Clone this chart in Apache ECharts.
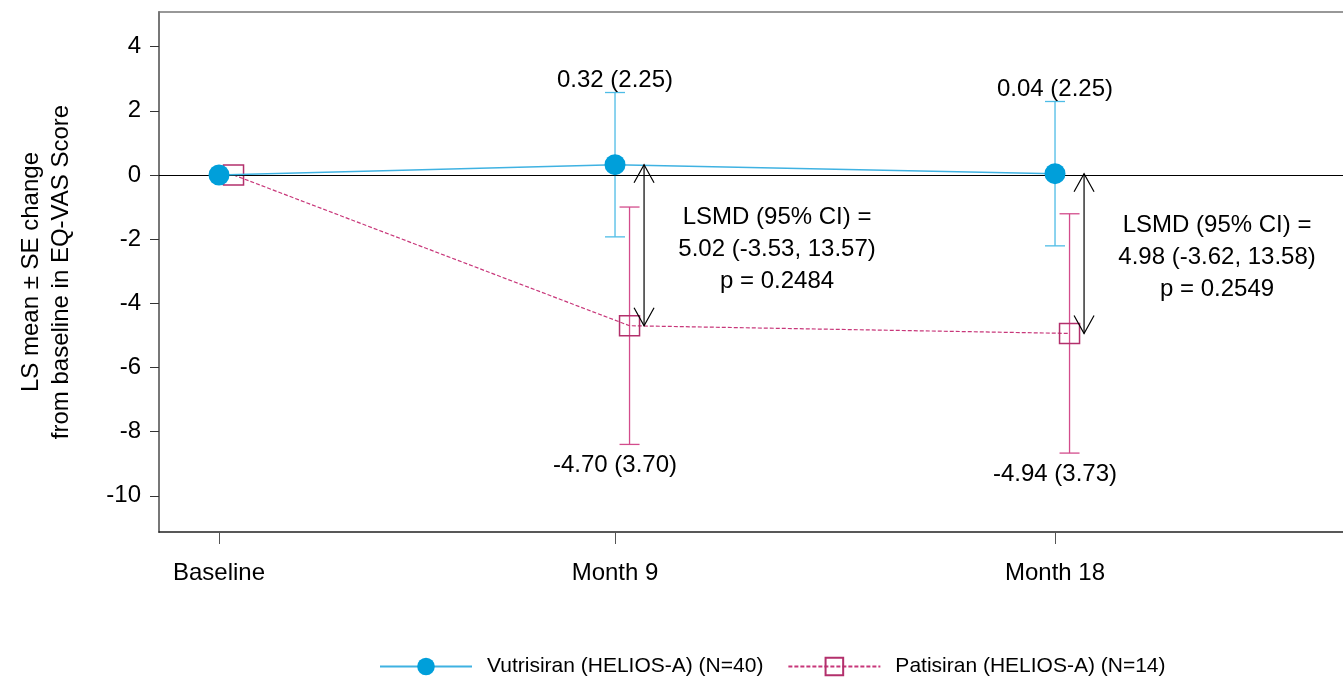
<!DOCTYPE html>
<html>
<head>
<meta charset="utf-8">
<script src="https://cdn.jsdelivr.net/npm/echarts@6/dist/echarts.min.js"></script>
<style>html,body{margin:0;padding:0;background:#fff;}#chart{width:1343px;height:683px;}</style>
</head>
<body>
<div id="chart"></div>
<script>
// ---- data ----
const categories = ['Baseline', 'Month 9', 'Month 18'];
const visitPos = [0, 9, 19];              // horizontal position of each visit on the time axis
const patDodge = 0.33;                    // patisiran points drawn slightly to the right
const arrowDodge = 0.66;                  // LSMD arrow position to the right of visit
const vutMean = [0, 0.32, 0.04];
const vutSE = [null, 2.25, 2.25];
const patMean = [0, -4.70, -4.94];
const patSE = [null, 3.70, 3.73];
const lsmdText = [null, '5.02 (-3.53, 13.57)', '4.98 (-3.62, 13.58)'];
const pText = [null, '0.2484', '0.2549'];
const yTicks = [-10, -8, -6, -4, -2, 0, 2, 4];
const seriesNames = ['Vutrisiran (HELIOS-A) (N=40)', 'Patisiran (HELIOS-A) (N=14)'];

const FONT = "'Liberation Sans', Arial, sans-serif";
const VUT = '#009FDA', VUT_LINE = '#3FB2E2', VUT_ERR = '#4DBCE6';
const PAT = '#B3306C', PAT_LINE = '#C8377A', PAT_ERR = '#D34C8C';

const vutPts = visitPos.map((x, i) => [x, vutMean[i]]);
const patPts = visitPos.map((x, i) => [x + patDodge, patMean[i]]);
const vutErr = [], patErr = [], topLabels = [], botLabels = [], arrows = [];
visitPos.forEach((x, i) => {
  if (vutSE[i] != null) {
    vutErr.push([x, vutMean[i] - vutSE[i], vutMean[i] + vutSE[i]]);
    topLabels.push({ value: [x, vutMean[i] + vutSE[i]], text: vutMean[i].toFixed(2) + ' (' + vutSE[i].toFixed(2) + ')' });
  }
  if (patSE[i] != null) {
    patErr.push([x + patDodge, patMean[i] - patSE[i], patMean[i] + patSE[i]]);
    botLabels.push({ value: [x, patMean[i] - patSE[i]], text: patMean[i].toFixed(2) + ' (' + patSE[i].toFixed(2) + ')' });
  }
  if (lsmdText[i] != null) {
    arrows.push({ value: [x + arrowDodge, vutMean[i], patMean[i]], lines: ['LSMD (95% CI) =', lsmdText[i], 'p = ' + pText[i]] });
  }
});

function errRender(color) {
  return function (params, api) {
    const x = api.value(0);
    const lo = api.coord([x, api.value(1)]);
    const hi = api.coord([x, api.value(2)]);
    const w = 10;
    const st = { stroke: color, lineWidth: 1.3 };
    return { type: 'group', children: [
      { type: 'line', shape: { x1: hi[0], y1: hi[1], x2: lo[0], y2: lo[1] }, style: st },
      { type: 'line', shape: { x1: hi[0] - w, y1: hi[1], x2: hi[0] + w, y2: hi[1] }, style: st },
      { type: 'line', shape: { x1: lo[0] - w, y1: lo[1], x2: lo[0] + w, y2: lo[1] }, style: st }
    ]};
  };
}
function labelRender(list, dy) {
  return function (params, api) {
    const it = list[params.dataIndex];
    const p = api.coord(it.value);
    return { type: 'text', x: p[0], y: p[1] + dy, style: { text: it.text, fill: '#000', font: '24px ' + FONT, textAlign: 'center', textVerticalAlign: 'middle' } };
  };
}

const option = {
  animation: false,
  grid: { left: 159, right: 0, top: 12, bottom: 151, containLabel: false, outerBoundsMode: 'none' },
  xAxis: [{
    type: 'value', min: -1.364, max: 25.545,
    axisLine: { show: true, onZero: false, lineStyle: { color: '#222', width: 1.5 } },
    axisTick: { show: true, length: 12, customValues: visitPos, lineStyle: { color: '#555', width: 1 } },
    axisLabel: { customValues: visitPos, margin: 29, fontSize: 24, fontFamily: FONT, color: '#000',
      formatter: v => categories[visitPos.indexOf(v)] || '' },
    splitLine: { show: false }
  }, {
    type: 'value', position: 'top', min: -1.364, max: 25.545,
    axisLine: { show: true, onZero: false, lineStyle: { color: '#777', width: 1.5 } },
    axisTick: { show: false }, axisLabel: { show: false }, splitLine: { show: false }
  }],
  yAxis: {
    type: 'value', min: -11.13, max: 5.08,
    name: 'LS mean ± SE change\nfrom baseline in EQ-VAS Score',
    nameLocation: 'middle', nameRotate: 90, nameGap: 83,
    nameTextStyle: { fontSize: 24, fontFamily: FONT, color: '#000', lineHeight: 30 },
    axisLine: { show: true, onZero: false, lineStyle: { color: '#777', width: 2 } },
    axisTick: { show: true, length: 9, customValues: yTicks, lineStyle: { color: '#333', width: 1 } },
    axisLabel: { customValues: yTicks, margin: 18, fontSize: 24, fontFamily: FONT, color: '#000' },
    splitLine: { show: false }
  },
  legend: {
    data: seriesNames, bottom: 1, left: 374,
    itemWidth: 92, itemHeight: 22, itemGap: 24,
    textStyle: { fontSize: 21, fontFamily: FONT, color: '#000', padding: [0, 0, 0, 10] }
  },
  series: [
    { type: 'custom', name: 'vutErr', renderItem: errRender(VUT_ERR), data: vutErr, z: 3, silent: true },
    { type: 'custom', name: 'patErr', renderItem: errRender(PAT_ERR), data: patErr, z: 3, silent: true },
    {
      type: 'line', name: seriesNames[1], data: patPts, z: 4,
      symbol: 'rect', symbolSize: 20,
      lineStyle: { color: PAT_LINE, width: 1.2, type: [4, 2] },
      itemStyle: { color: 'rgba(255,255,255,0)', borderColor: PAT, borderWidth: 1.5 },
      markLine: { silent: true, symbol: 'none', label: { show: false },
        lineStyle: { color: '#000', width: 1.2, type: 'solid' }, data: [{ yAxis: 0 }] }
    },
    {
      type: 'line', name: seriesNames[0], data: vutPts, z: 5,
      symbol: 'circle', symbolSize: 21,
      lineStyle: { color: VUT_LINE, width: 1.5 },
      itemStyle: { color: VUT, borderWidth: 0 }
    },
    { type: 'custom', name: 'topLab', renderItem: labelRender(topLabels, -12), data: topLabels.map(d => d.value), z: 6, silent: true },
    { type: 'custom', name: 'botLab', renderItem: labelRender(botLabels, 21), data: botLabels.map(d => d.value), z: 6, silent: true },
    {
      type: 'custom', name: 'lsmd', z: 7, silent: true,
      data: arrows.map(a => a.value),
      renderItem: function (params, api) {
        const a = arrows[params.dataIndex];
        const x = api.value(0);
        const t = api.coord([x, api.value(1)]);
        const b = api.coord([x, api.value(2)]);
        const st = { stroke: '#000', lineWidth: 1.2, fill: null };
        const hw = 10, hh = 18;
        const mid = (t[1] + b[1]) / 2;
        const children = [
          { type: 'line', shape: { x1: t[0], y1: t[1], x2: b[0], y2: b[1] }, style: st },
          { type: 'polyline', shape: { points: [[t[0] - hw, t[1] + hh], [t[0], t[1]], [t[0] + hw, t[1] + hh]] }, style: st },
          { type: 'polyline', shape: { points: [[b[0] - hw, b[1] - hh], [b[0], b[1]], [b[0] + hw, b[1] - hh]] }, style: st }
        ];
        a.lines.forEach((ln, k) => {
          children.push({ type: 'text', x: t[0] + 133, y: mid + 4 + (k - 1) * 32,
            style: { text: ln, fill: '#000', font: '24px ' + FONT, textAlign: 'center', textVerticalAlign: 'middle' } });
        });
        return { type: 'group', children };
      }
    }
  ]
};
const chart = echarts.init(document.getElementById('chart'), null, { renderer: 'canvas' });
chart.setOption(option);
</script>
</body>
</html>
